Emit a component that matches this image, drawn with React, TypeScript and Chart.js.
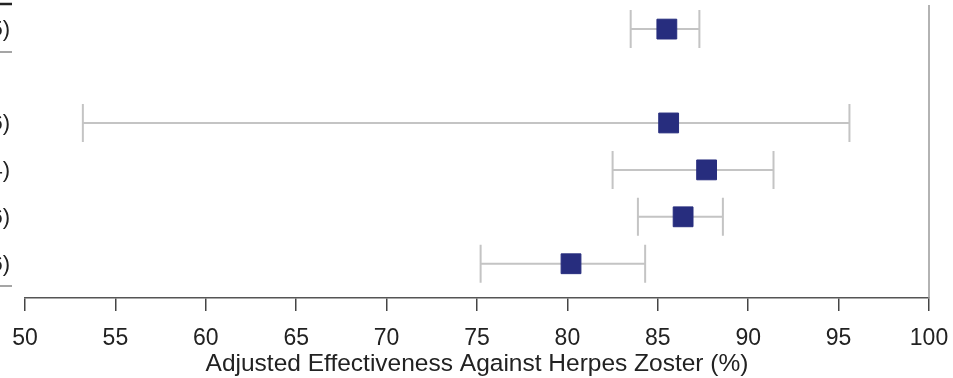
import React, { useEffect, useRef } from "react";
import { Chart, registerables } from "chart.js";

Chart.register(...registerables);

const rowLabels = ["(83.6–87.5)", "(53.2–95.6)", "(82.6–91.4)", "(83.9–88.6)", "(75.2–84.6)"];
const rowIndex = [0, 2, 3, 4, 5];
const estimates = [85.5, 85.6, 87.7, 86.4, 80.2];
const lowerCI = [83.5, 53.2, 82.5, 83.9, 75.2];
const upperCI = [87.3, 95.6, 91.4, 88.6, 84.3];
const xTicks = [50, 55, 60, 65, 70, 75, 80, 85, 90, 95, 100];
const axisTitle = "Adjusted Effectiveness Against Herpes Zoster (%)";

const FONT = "'Liberation Sans', Arial, sans-serif";

const forestPlugin = {
  id: "forest",
  beforeDatasetsDraw(chart: any) {
    const { ctx, scales, chartArea } = chart;
    const xs = scales.x;
    const ys = scales.y;
    ctx.save();
    // right reference line at 100
    const x100 = xs.getPixelForValue(100);
    ctx.strokeStyle = "#9a9a9a";
    ctx.lineWidth = 1.5;
    ctx.beginPath();
    ctx.moveTo(x100, chartArea.top + 5);
    ctx.lineTo(x100, chartArea.bottom);
    ctx.stroke();
    // error bars
    ctx.strokeStyle = "#c4c4c4";
    ctx.lineWidth = 2;
    for (let i = 0; i < rowIndex.length; i++) {
      const y = ys.getPixelForValue(rowIndex[i]);
      const x1 = xs.getPixelForValue(lowerCI[i]);
      const x2 = xs.getPixelForValue(upperCI[i]);
      ctx.beginPath();
      ctx.moveTo(x1, y);
      ctx.lineTo(x2, y);
      ctx.moveTo(x1, y - 19);
      ctx.lineTo(x1, y + 19);
      ctx.moveTo(x2, y - 19);
      ctx.lineTo(x2, y + 19);
      ctx.stroke();
    }
    // left table remnants
    ctx.fillStyle = "#222";
    ctx.font = `22px ${FONT}`;
    ctx.textAlign = "right";
    ctx.textBaseline = "middle";
    for (let i = 0; i < rowIndex.length; i++) {
      ctx.fillText(rowLabels[i], 10, ys.getPixelForValue(rowIndex[i]) + 1);
    }
    ctx.strokeStyle = "#222";
    ctx.lineWidth = 2.5;
    ctx.beginPath();
    ctx.moveTo(0, 4);
    ctx.lineTo(12, 4);
    ctx.stroke();
    ctx.strokeStyle = "#888";
    ctx.lineWidth = 1.5;
    ctx.beginPath();
    ctx.moveTo(0, 52);
    ctx.lineTo(12, 52);
    ctx.moveTo(0, 286);
    ctx.lineTo(12, 286);
    ctx.stroke();
    ctx.restore();
  },
};

export default function App() {
  const ref = useRef<HTMLCanvasElement>(null);
  useEffect(() => {
    document.body.style.margin = "0";
    const chart = new Chart(ref.current as HTMLCanvasElement, {
      type: "scatter",
      data: {
        datasets: [
          {
            data: rowIndex.map((r, i) => ({ x: estimates[i], y: r })),
            pointStyle: "rect",
            pointRadius: 14,
            backgroundColor: "#272d7e",
            borderColor: "#272d7e",
            borderWidth: 1,
          },
        ],
      },
      options: {
        animation: false,
        responsive: false,
        layout: { autoPadding: false, padding: { left: 25, right: 24, top: 0, bottom: 0 } },
        plugins: { legend: { display: false }, tooltip: { enabled: false } },
        scales: {
          x: {
            type: "linear",
            min: 50,
            max: 100,
            afterBuildTicks: (s: any) => {
              s.ticks = xTicks.map((v) => ({ value: v }));
            },
            afterFit: (s: any) => {
              s.paddingLeft = 0;
              s.paddingRight = 0;
            },
            grid: { drawOnChartArea: false, drawTicks: true, tickLength: 13, color: "#444", lineWidth: 1.5 },
            border: { display: true, color: "#555", width: 1.5 },
            ticks: { color: "#222", font: { family: FONT, size: 23, lineHeight: 1.1 }, padding: 15.35, maxRotation: 0 },
            title: {
              display: true,
              text: axisTitle,
              color: "#222",
              font: { family: FONT, size: 24.5, lineHeight: 1.2 },
              padding: { top: -17.7, bottom: -0.7 },
            },
          },
          y: {
            type: "linear",
            reverse: true,
            min: -0.62,
            max: 5.73,
            display: false,
          },
        },
      },
      plugins: [forestPlugin],
    });
    return () => chart.destroy();
  }, []);
  return <canvas ref={ref} width={953} height={378} style={{ display: "block" }} />;
}
